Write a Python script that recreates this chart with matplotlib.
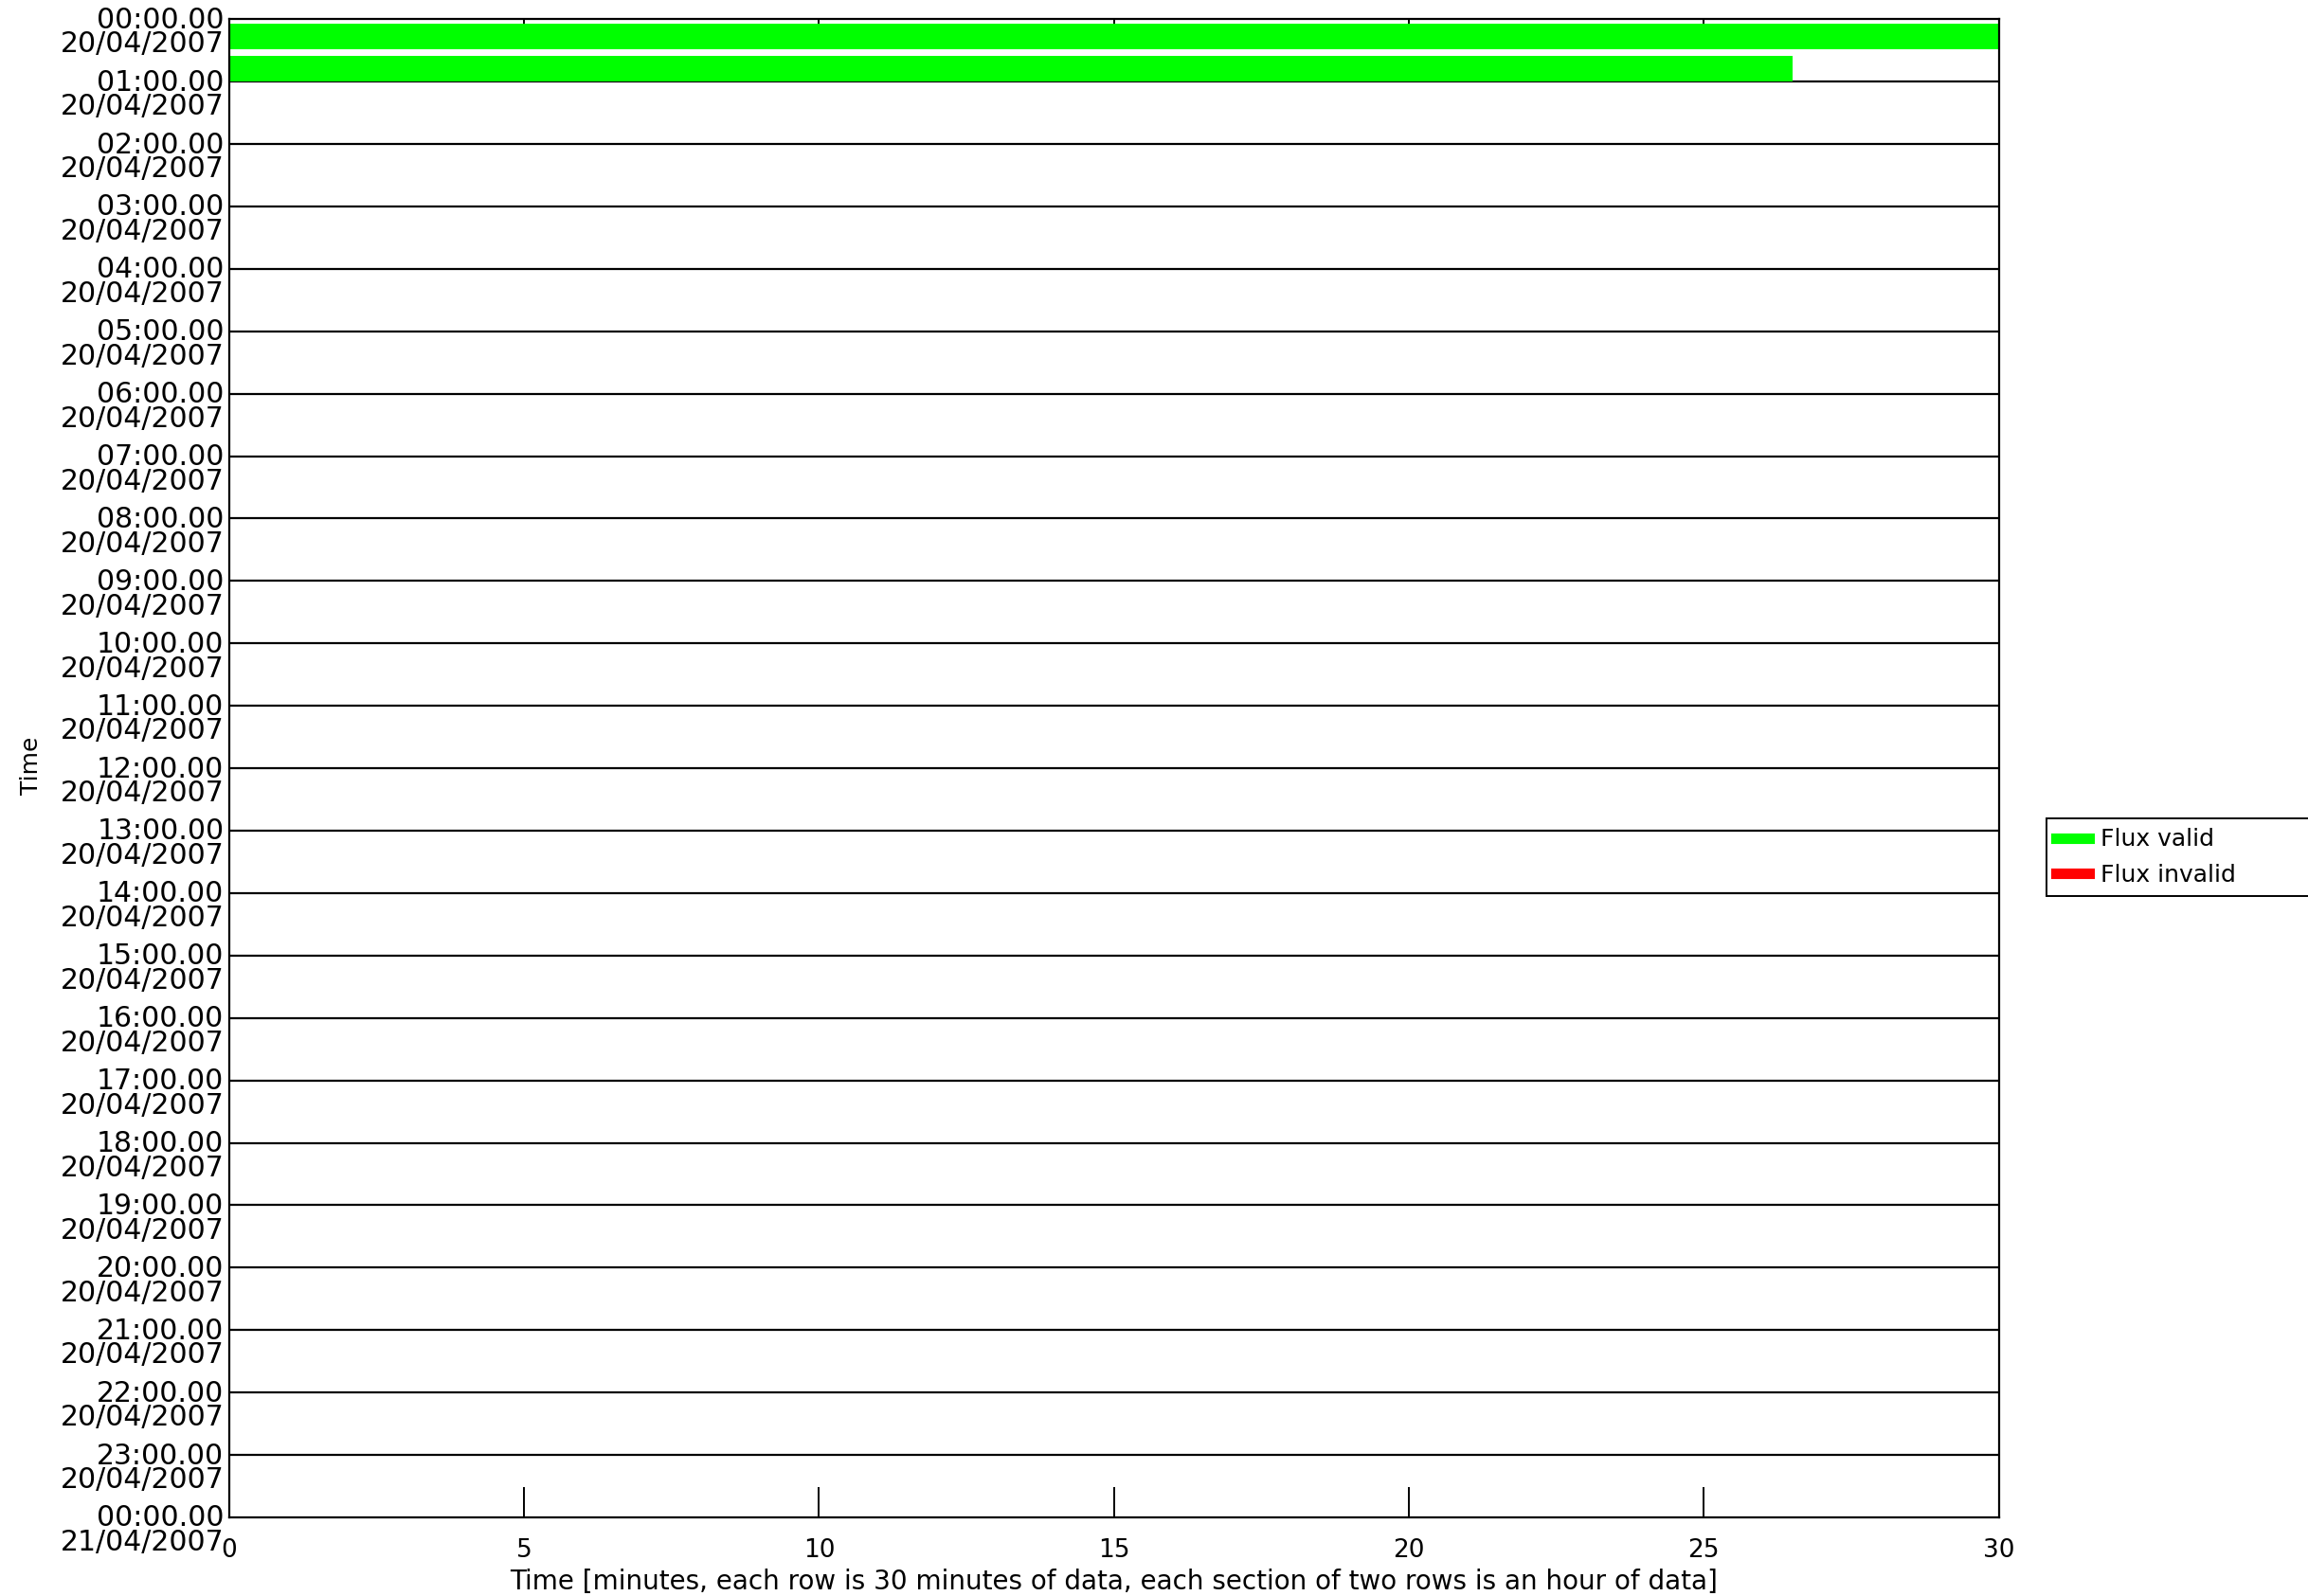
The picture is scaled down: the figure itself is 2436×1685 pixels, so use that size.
import matplotlib
matplotlib.use("Agg")
import matplotlib.pyplot as plt
import matplotlib.transforms as mtransforms
from matplotlib.lines import Line2D

# ── Data ─────────────────────────────────────────────────────────────────────
hours = list(range(25))
hour_labels = [f"{h:02d}:00.00\n20/04/2007" for h in range(24)] + ["00:00.00\n21/04/2007"]
x_ticks = [0, 5, 10, 15, 20, 25, 30]

# valid flux segments: top of bar (hours), start / end (minutes)
valid_y0 = [0.065, 0.59]
valid_x0 = [0.0, 0.0]
valid_x1 = [30.0, 26.5]
# invalid flux segments (none in this day)
invalid_y0 = []
invalid_x0 = []
invalid_x1 = []
bar_h = 0.41

FS = 20
plt.rcParams["font.family"] = ["DejaVu Sans"]

fig = plt.figure(figsize=(24.36, 16.85), dpi=100)
ax = fig.add_axes([0.0993, 0.0493, 0.866 - 0.0993, 0.988 - 0.0493])
ax.set_axisbelow(True)

ax.barh([y + bar_h / 2 for y in valid_y0],
        [b - a for a, b in zip(valid_x0, valid_x1)],
        left=valid_x0, height=bar_h, color="#00ff00", linewidth=0, zorder=3)
if invalid_y0:
    ax.barh([y + bar_h / 2 for y in invalid_y0],
            [b - a for a, b in zip(invalid_x0, invalid_x1)],
            left=invalid_x0, height=bar_h, color="#ff0000", linewidth=0, zorder=3)

for h in hours[1:-1]:
    ax.axhline(h, color="black", linewidth=1.6, zorder=2)

ax.set_xlim(0, 30)
ax.set_ylim(24, 0)
ax.set_xticks(x_ticks)
ax.set_xticklabels([str(t) for t in x_ticks], fontsize=FS - 1)
ax.tick_params(axis="x", direction="in", length=23, width=1.4, top=True,
               bottom=True, pad=16)
ax.set_yticks(hours)
ax.set_yticklabels(hour_labels, fontsize=FS + 1.5, linespacing=0.86)
ax.tick_params(axis="y", length=0, pad=4)
# shift labels so the time line sits on the hour line
offset = mtransforms.ScaledTranslation(0, -9 / 72, fig.dpi_scale_trans)
for lab in ax.get_yticklabels():
    lab.set_transform(lab.get_transform() + offset)

for sp in ax.spines.values():
    sp.set_linewidth(1.6)
    sp.set_zorder(4)

ax.set_xlabel("Time [minutes, each row is 30 minutes of data, each section of two rows is an hour of data]",
              fontsize=FS, labelpad=4)
fig.text(0.0135, 0.52, "Time", rotation=90, fontsize=FS - 2, ha="center", va="center")

handles = [Line2D([], [], color="#00ff00", linewidth=8),
           Line2D([], [], color="#ff0000", linewidth=8)]
fig.legend(handles, ["Flux valid", "Flux invalid"],
           bbox_to_anchor=(0.8865, 0.4385, 0.2, 0.0525), bbox_transform=fig.transFigure,
           mode="expand", loc="lower left", fontsize=FS - 2, handlelength=1.4,
           handletextpad=0.5, labelspacing=0.55, borderpad=0.4, borderaxespad=0,
           frameon=True, fancybox=False, edgecolor="black", framealpha=1)
fig.legends[0].get_frame().set_linewidth(1.4)

plt.savefig("out.png", dpi=100)
plt.close()
